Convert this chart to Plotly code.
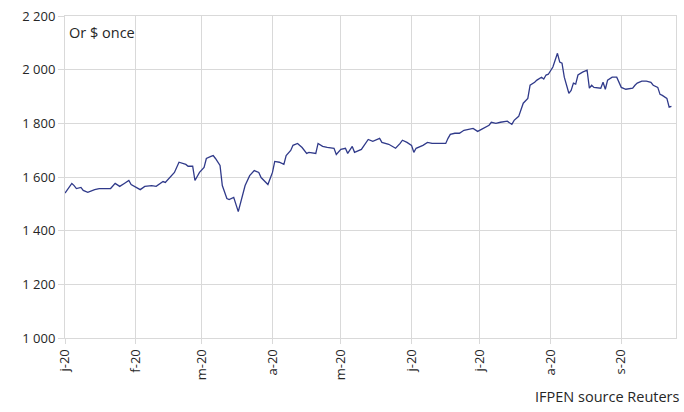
import plotly.graph_objects as go

dates = [
    "2020-01-01", "2020-01-04", "2020-01-05", "2020-01-06", "2020-01-08", "2020-01-09",
    "2020-01-11", "2020-01-13", "2020-01-14", "2020-01-16", "2020-01-21", "2020-01-23",
    "2020-01-25", "2020-01-27", "2020-01-29", "2020-01-30", "2020-02-01", "2020-02-03",
    "2020-02-05", "2020-02-08", "2020-02-10", "2020-02-13", "2020-02-14", "2020-02-16",
    "2020-02-18", "2020-02-20", "2020-02-23", "2020-02-24", "2020-02-26", "2020-02-27",
    "2020-02-29", "2020-03-02", "2020-03-03", "2020-03-05", "2020-03-06", "2020-03-07",
    "2020-03-09", "2020-03-10", "2020-03-12", "2020-03-13", "2020-03-15", "2020-03-17",
    "2020-03-19", "2020-03-20", "2020-03-22", "2020-03-24", "2020-03-26", "2020-03-27",
    "2020-03-30", "2020-03-31", "2020-04-01", "2020-04-02", "2020-04-04", "2020-04-06",
    "2020-04-07", "2020-04-09", "2020-04-10", "2020-04-12", "2020-04-14", "2020-04-16",
    "2020-04-17", "2020-04-20", "2020-04-21", "2020-04-23", "2020-04-25", "2020-04-28",
    "2020-04-29", "2020-05-01", "2020-05-03", "2020-05-04", "2020-05-06", "2020-05-07",
    "2020-05-10", "2020-05-13", "2020-05-15", "2020-05-18", "2020-05-19", "2020-05-22",
    "2020-05-25", "2020-05-27", "2020-05-28", "2020-05-30", "2020-06-01", "2020-06-02",
    "2020-06-03", "2020-06-06", "2020-06-08", "2020-06-10", "2020-06-13", "2020-06-16",
    "2020-06-17", "2020-06-18", "2020-06-20", "2020-06-22", "2020-06-24", "2020-06-27",
    "2020-06-28", "2020-06-30", "2020-07-01", "2020-07-03", "2020-07-05", "2020-07-06",
    "2020-07-08", "2020-07-10", "2020-07-13", "2020-07-15", "2020-07-16", "2020-07-18",
    "2020-07-20", "2020-07-22", "2020-07-23", "2020-07-25", "2020-07-26", "2020-07-28",
    "2020-07-29", "2020-07-30", "2020-07-31", "2020-08-02", "2020-08-03", "2020-08-04",
    "2020-08-05", "2020-08-06", "2020-08-07", "2020-08-09", "2020-08-10", "2020-08-11",
    "2020-08-12", "2020-08-13", "2020-08-15", "2020-08-17", "2020-08-18", "2020-08-19",
    "2020-08-20", "2020-08-23", "2020-08-24", "2020-08-25", "2020-08-26", "2020-08-28",
    "2020-08-30", "2020-09-01", "2020-09-03", "2020-09-06", "2020-09-07", "2020-09-08",
    "2020-09-10", "2020-09-12", "2020-09-14", "2020-09-15", "2020-09-17", "2020-09-18",
    "2020-09-19", "2020-09-21", "2020-09-22", "2020-09-23",
]

gold_usd_oz = [
    1540, 1576, 1568, 1557, 1561, 1550,
    1543, 1550, 1553, 1557, 1557, 1576,
    1565, 1576, 1587, 1572, 1561, 1553,
    1565, 1568, 1565, 1583, 1580, 1598,
    1617, 1655, 1647, 1640, 1640, 1587,
    1617, 1636, 1669, 1677, 1680, 1669,
    1643, 1568, 1520, 1516, 1524, 1471,
    1540, 1568, 1605, 1624, 1617, 1598,
    1572, 1594, 1617, 1658, 1655, 1647,
    1680, 1699, 1718, 1725, 1710, 1688,
    1692, 1688, 1725, 1714, 1710, 1707,
    1684, 1703, 1707, 1688, 1714, 1692,
    1703, 1740, 1733, 1744, 1729, 1722,
    1707, 1725, 1737, 1729, 1718, 1692,
    1707, 1718, 1729, 1725, 1725, 1725,
    1744, 1759, 1763, 1763, 1774, 1778,
    1781, 1770, 1774, 1785, 1793, 1804,
    1800, 1804, 1808, 1796, 1811, 1826,
    1875, 1893, 1942, 1953, 1961, 1972,
    1965, 1980, 1983, 2010, 2032, 2061,
    2028, 2024, 1972, 1912, 1923, 1950,
    1946, 1980, 1991, 1998, 1931, 1942,
    1934, 1931, 1953, 1927, 1961, 1972,
    1972, 1934, 1927, 1931, 1942, 1950,
    1957, 1957, 1953, 1942, 1934, 1908,
    1904, 1893, 1860, 1863,
]

month_ticks = ["2020-01-01", "2020-02-01", "2020-03-01", "2020-04-01", "2020-05-01",
               "2020-06-01", "2020-07-01", "2020-08-01", "2020-09-01"]
month_labels = ["j-20", "f-20", "m-20", "a-20", "m-20", "j-20", "j-20", "a-20", "s-20"]

y_ticks = [1000, 1200, 1400, 1600, 1800, 2000, 2200]
y_labels = ["1 000", "1 200", "1 400", "1 600", "1 800", "2 000", "2 200"]

FONT = "Open Sans, Noto Sans, sans-serif"
GRID = "#d9d9d9"

fig = go.Figure()
fig.add_trace(go.Scatter(
    x=dates, y=gold_usd_oz, mode="lines",
    line=dict(color="#303a8a", width=1.3),
    showlegend=False,
))

fig.update_layout(
    width=684, height=412,
    margin=dict(l=65, r=8, t=16, b=74),
    paper_bgcolor="white", plot_bgcolor="white",
    font=dict(family=FONT, size=13, color="#262626"),
    xaxis=dict(
        type="date", range=["2020-01-01", "2020-09-25"],
        tickvals=month_ticks, ticktext=month_labels, tickangle=-90,
        showgrid=True, gridcolor=GRID, gridwidth=1,
        showline=True, linecolor=GRID, linewidth=1, mirror=True,
        ticks="outside", ticklen=5, tickcolor=GRID,
        zeroline=False, tickfont=dict(size=13),
    ),
    yaxis=dict(
        range=[1000, 2200], tickvals=y_ticks, ticktext=y_labels,
        showgrid=True, gridcolor=GRID, gridwidth=1,
        showline=True, linecolor=GRID, linewidth=1, mirror=True,
        ticks="outside", ticklen=6, tickcolor=GRID,
        zeroline=False, tickfont=dict(size=13),
    ),
    annotations=[
        dict(text="Or $ once", xref="paper", yref="paper", x=0.004, y=0.948,
             xanchor="left", yanchor="middle", showarrow=False,
             font=dict(size=14.5, color="#262626")),
        dict(text="IFPEN source Reuters", xref="paper", yref="paper", x=1.01, y=-0.183,
             xanchor="right", yanchor="middle", showarrow=False,
             font=dict(size=14.5, color="#262626")),
    ],
)

fig.write_html(
    "out.html",
    config={"displayModeBar": False},
    post_script="document.body.style.margin='0';document.body.style.padding='0';"
                "document.documentElement.style.overflow='hidden';",
)
